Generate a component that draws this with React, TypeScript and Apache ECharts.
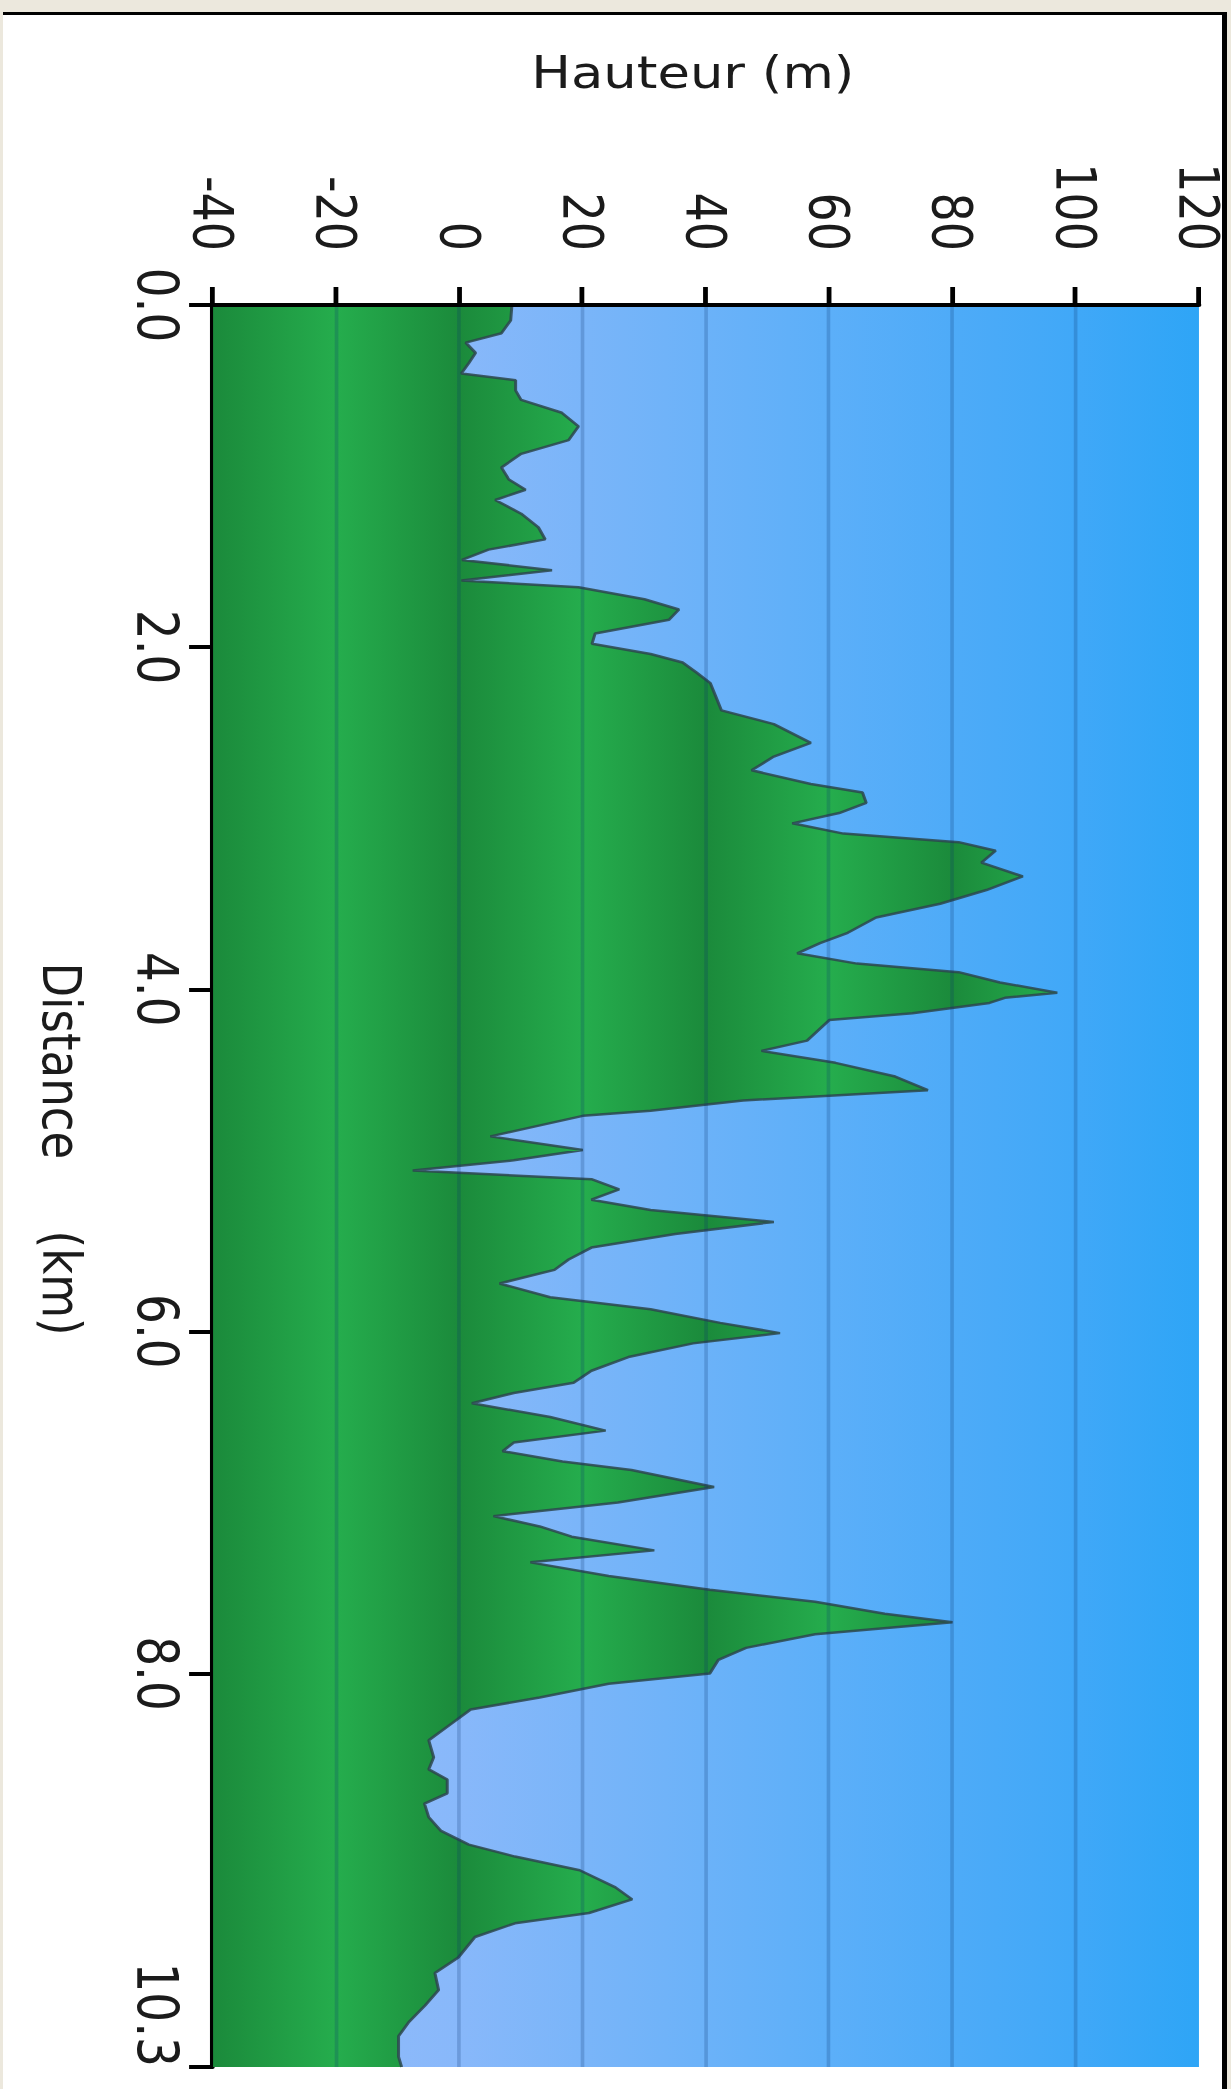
import React, { useEffect, useRef } from "react";
import * as echarts from "echarts";

// Distance along the route (km) and terrain height (m)
const distanceKm = [
  0.0, 0.09, 0.165, 0.22, 0.28, 0.34, 0.4, 0.44, 0.5, 0.555, 0.63, 0.71, 0.79, 0.87, 0.95,
  1.02, 1.08, 1.14, 1.22, 1.3, 1.37, 1.43, 1.49, 1.55, 1.61, 1.65, 1.72, 1.78, 1.84, 1.92, 1.98,
  2.04, 2.09, 2.15, 2.21, 2.29, 2.37, 2.45, 2.56, 2.64, 2.72, 2.8, 2.85, 2.91, 2.97,
  3.03, 3.09, 3.14, 3.19, 3.26, 3.34, 3.42, 3.5, 3.58, 3.67, 3.73, 3.79, 3.85, 3.9, 3.96,
  4.02, 4.05, 4.08, 4.14, 4.18, 4.3, 4.36, 4.43, 4.51, 4.59, 4.65, 4.71, 4.74, 4.8, 4.86, 4.94,
  5.0, 5.06, 5.11, 5.17, 5.23, 5.29, 5.36, 5.43, 5.51, 5.58, 5.64, 5.72, 5.8, 5.87, 5.95,
  6.01, 6.07, 6.15, 6.23, 6.3, 6.36, 6.42, 6.5, 6.58, 6.65, 6.7, 6.76, 6.81, 6.91,
  7.0, 7.08, 7.14, 7.2, 7.28, 7.35, 7.43, 7.51, 7.58, 7.65, 7.7, 7.77, 7.85, 7.92,
  8.0, 8.06, 8.14, 8.21, 8.29, 8.39, 8.49, 8.56, 8.62, 8.7, 8.76, 8.84, 8.92,
  9.0, 9.07, 9.15, 9.25, 9.32, 9.4, 9.46, 9.54, 9.66, 9.75, 9.85, 9.94,
  10.04, 10.12, 10.24, 10.3,
];

const heightM = [
  8.5, 8.3, 6.8, 1.0, 2.6, 1.5, 0.3, 9.1, 9.1, 10.0, 16.6, 19.3, 17.7, 10.0, 6.8,
  8.0, 10.7, 5.8, 10.0, 12.8, 13.9, 4.7, 0.4, 15.0, 0.3, 19.3, 30.0, 35.6, 34.0, 22.0, 21.5,
  31.0, 36.2, 38.5, 40.7, 41.6, 42.5, 51.0, 57.0, 51.0, 47.4, 57.0, 65.4, 66.0, 61.6,
  54.0, 62.3, 81.0, 87.0, 84.7, 91.4, 85.5, 78.0, 67.6, 63.0, 58.5, 54.8, 64.5, 81.0, 87.7,
  97.0, 88.5, 86.0, 73.5, 60.0, 56.4, 49.0, 61.0, 70.7, 76.0, 46.0, 31.0, 20.0, 12.5, 5.0, 20.0,
  8.8, -7.6, 21.4, 25.9, 21.4, 31.0, 51.0, 35.0, 21.4, 17.7, 15.4, 6.5, 14.7, 31.0, 42.3,
  52.0, 37.9, 27.4, 21.4, 18.5, 8.8, 2.0, 14.7, 23.7, 8.8, 7.0, 16.7, 27.9, 41.3,
  25.7, 5.5, 13.0, 18.2, 31.6, 11.5, 24.2, 40.6, 57.7, 69.0, 80.0, 57.7, 46.5, 42.0,
  40.6, 24.2, 13.0, 1.8, -1.2, -5.0, -4.2, -5.0, -2.0, -2.0, -5.7, -5.0, -3.0,
  1.5, 9.0, 19.5, 25.3, 28.0, 21.0, 9.0, 2.5, -0.2, -4.0, -3.4, -5.6,
  -8.3, -9.9, -9.9, -9.4,
];

const distanceTicks = [0, 2, 4, 6, 8, 10.3];
const heightMin = -40;
const heightMax = 120;
const heightStep = 20;

const PAGE_W = 1231;
const PAGE_H = 2089;
const CHART_W = 2089; // landscape width (becomes page height)
const CHART_H = 1026; // landscape height (stretched to page width)
const STRETCH = PAGE_W / CHART_H;

export default function App() {
  const ref = useRef<HTMLDivElement>(null);

  useEffect(() => {
    if (!ref.current) return;
    const chart = echarts.init(ref.current, null, {
      renderer: "svg",
      width: CHART_W,
      height: CHART_H,
    });

    const points = distanceKm.map((d, i) => [d, heightM[i]]);
    const maxH = Math.max(...heightM);

    // banded green shading of the terrain (dark at every 40 m, light in between)
    const greenStops: { offset: number; color: string }[] = [];
    for (let v = heightMax; v >= heightMin; v -= heightStep) {
      const off = Math.min(1, Math.max(0, (maxH - v) / (maxH - heightMin)));
      greenStops.push({ offset: off, color: v % 40 === 0 ? "#1b8a3b" : "#25ad4d" });
    }

    const skyGradient = new echarts.graphic.LinearGradient(0, 0, 0, 1, [
      { offset: 0, color: "#2ea5f6" },
      { offset: 0.125, color: "#40a8f8" },
      { offset: 0.25, color: "#4eabf8" },
      { offset: 0.375, color: "#5caff9" },
      { offset: 0.5, color: "#6bb2f9" },
      { offset: 0.625, color: "#7ab5f9" },
      { offset: 0.75, color: "#88b8fa" },
      { offset: 1, color: "#96bcfb" },
    ]);

    const font = "DejaVu Sans";

    chart.setOption({
      animation: false,
      backgroundColor: "transparent",
      grid: {
        left: 305,
        right: 22,
        top: 26.7,
        bottom: 177.6,
        show: true,
        backgroundColor: skyGradient,
        borderWidth: 0,
      },
      xAxis: {
        type: "value",
        min: 0,
        max: 10.3,
        position: "bottom",
        name: "Distance     (km)",
        nameLocation: "middle",
        nameGap: 104,
        nameTextStyle: {
          fontFamily: font,
          fontSize: 45,
          color: "#1b1b1b",
          padding: [0, 74, 0, 0],
        },
        axisLine: { show: true, onZero: false, lineStyle: { color: "#000", width: 4 } },
        axisTick: {
          show: true,
          length: 20,
          customValues: distanceTicks,
          lineStyle: { color: "#000", width: 4 },
        },
        axisLabel: {
          customValues: distanceTicks,
          formatter: (v: number) => v.toFixed(1),
          fontFamily: font,
          fontSize: 47,
          color: "#1b1b1b",
          margin: 24,
          alignMaxLabel: "right",
        },
        splitLine: { show: false },
      },
      yAxis: {
        type: "value",
        min: heightMin,
        max: heightMax,
        interval: heightStep,
        z: 3,
        name: "Hauteur (m)",
        nameLocation: "middle",
        nameRotate: 90,
        nameGap: 210,
        nameTextStyle: {
          fontFamily: font,
          fontSize: 44,
          color: "#1b1b1b",
          padding: [0, 22, 0, 0],
        },
        axisLine: { show: true, onZero: false, lineStyle: { color: "#000", width: 4 } },
        axisTick: { show: true, length: 18, lineStyle: { color: "#000", width: 4 } },
        axisLabel: {
          fontFamily: font,
          fontSize: 46,
          color: "#1b1b1b",
          margin: 54,
        },
        splitLine: {
          show: true,
          showMinLine: false,
          showMaxLine: false,
          lineStyle: { color: "rgba(10,50,110,0.22)", width: 3 },
        },
      },
      series: [
        {
          type: "line",
          data: points,
          symbol: "none",
          showSymbol: false,
          z: 2,
          lineStyle: { color: "rgba(45,70,78,0.85)", width: 2.5 },
          areaStyle: {
            origin: "start",
            opacity: 1,
            color: new echarts.graphic.LinearGradient(0, 0, 0, 1, greenStops),
          },
        },
      ],
    });

    return () => chart.dispose();
  }, []);

  return (
    <div
      style={{
        position: "absolute",
        left: 0,
        top: 0,
        width: PAGE_W,
        height: PAGE_H,
        background: "#ece8dd",
        overflow: "hidden",
      }}
    >
      <div
        style={{
          position: "absolute",
          left: 3,
          top: 12,
          width: 1219,
          height: PAGE_H,
          background: "#ffffff",
          borderTop: "3px solid #000",
          borderRight: "5px solid #000",
        }}
      />
      <div
        ref={ref}
        style={{
          position: "absolute",
          left: 0,
          top: 0,
          width: CHART_W,
          height: CHART_H,
          transformOrigin: "0 0",
          transform: `translate(${PAGE_W}px, 0px) rotate(90deg) scaleY(${STRETCH})`,
        }}
      />
    </div>
  );
}
